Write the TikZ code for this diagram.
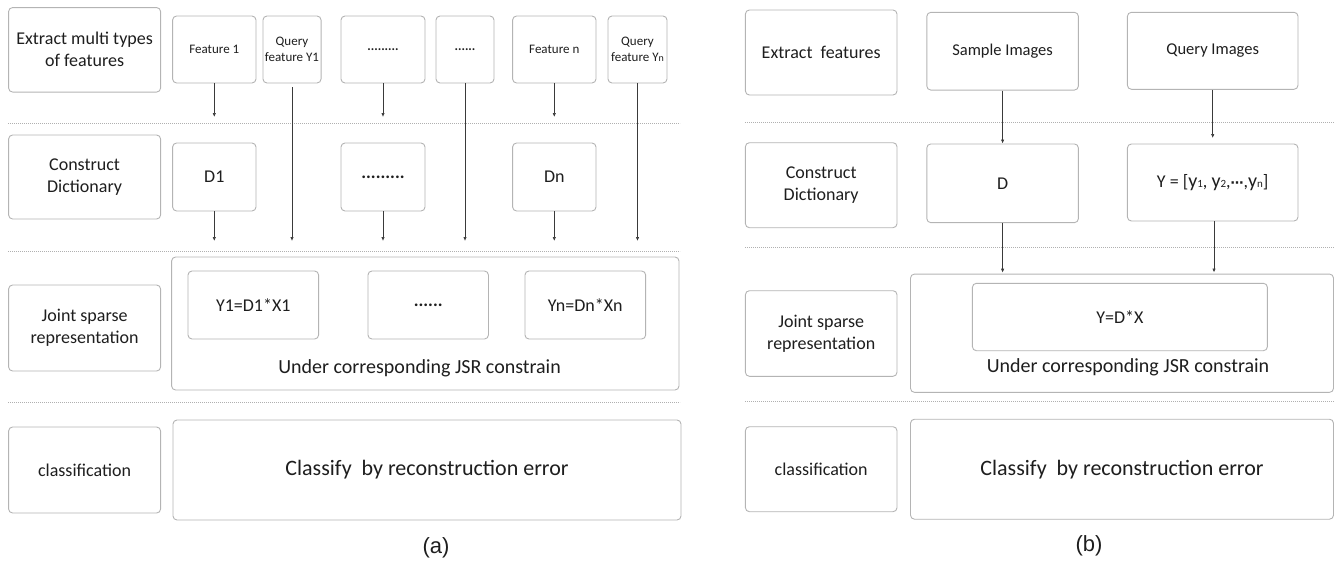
\documentclass[tikz,border=0pt]{standalone}
\usepackage{fontspec}
\setmainfont{Carlito}
\newfontfamily\arialf{Liberation Sans}
\newfontfamily\djv{DejaVu Sans}
\usetikzlibrary{arrows.meta}
\definecolor{boxgray}{HTML}{B4B4B4}
\definecolor{txt}{HTML}{1E1E1E}
\definecolor{dotgray}{HTML}{B0B0B0}
\definecolor{arrgray}{HTML}{3A3A3A}
\newcommand\ysub[1]{{\fontsize{20}{22}\selectfont y}{\fontsize{11}{13}\selectfont #1}}
\tikzset{
  box/.style={draw=boxgray, line width=0.9pt, rounded corners=4pt, fill=white,
    align=center, text=txt, inner sep=2pt},
  lbl/.style={box, font=\fontsize{18}{22}\selectfont, minimum width=152pt},
  small/.style={font=\fontsize{13}{16}\selectfont},
  mid/.style={font=\fontsize{18}{22}\selectfont},
  arr/.style={-{Latex[length=4pt,width=3.4pt]}, line width=0.7pt, draw=arrgray},
  sep/.style={draw=dotgray, line width=0.8pt, dash pattern=on 0.7pt off 1.3pt},
  captxt/.style={font=\arialf\fontsize{22}{26}\selectfont, text=txt},
}
\begin{document}
\begin{tikzpicture}[x=1pt,y=-1pt]
\useasboundingbox (0,0) rectangle (1335,562);
% ---------------- panel (a) ----------------
\draw[sep] (8,123) -- (680,123);
\draw[sep] (8,251) -- (680,251);
\draw[sep] (8,402.5) -- (680,402.5);
\node[lbl, minimum height=84.5pt] (la1) at (84.6,49.8) {Extract multi types\\of features};
\node[lbl, minimum height=84pt] (la2) at (84.6,177) {Construct\\Dictionary};
\node[lbl, minimum height=86pt] (la3) at (84.6,328) {Joint sparse\\representation};
\node[lbl, minimum height=86pt] (la4) at (84.6,470) {classification};
% row 1
\node[box, small, minimum width=83.4pt, minimum height=67pt] (f1) at (214.3,49.5) {Feature 1};
\node[box, small, minimum width=58pt, minimum height=67pt] (q1) at (292,49.5) {Query\\feature Y1};
\node[box, small, minimum width=84pt, minimum height=67pt] (fd) at (383,49.5) {\textbf{.........}};
\node[box, small, minimum width=58pt, minimum height=67pt] (qd) at (465,49.5) {\textbf{......}};
\node[box, small, minimum width=83.4pt, minimum height=67pt] (fn) at (554.3,49.5) {Feature n};
\node[box, small, minimum width=59pt, minimum height=67pt] (qn) at (637.5,49.5) {Query\\feature Y{\fontsize{10}{12}\selectfont n}};
% row 2
\node[box, mid, minimum width=83.4pt, minimum height=68pt] (d1) at (214.3,177) {D1};
\node[box, mid, minimum width=84pt, minimum height=68pt] (dd) at (383,177) {\textbf{.........}};
\node[box, mid, minimum width=83.4pt, minimum height=68pt] (dn) at (554.3,177) {Dn};
% row 3
\node[box, minimum width=507.4pt, minimum height=133pt] (ja) at (425.3,323.5) {};
\node[box, mid, minimum width=130.6pt, minimum height=68pt] (y1) at (253.3,305) {Y1=D1*X1};
\node[box, mid, minimum width=120.5pt, minimum height=68pt] (yd) at (428.2,305) {\textbf{......}};
\node[box, mid, minimum width=120.7pt, minimum height=68pt] (yn) at (585.3,305) {Yn=Dn*Xn};
\node[text=txt, font=\fontsize{20}{24}\selectfont] (jsra) at (419.6,368.5) {Under corresponding JSR constrain};
% row 4
\node[box, font=\fontsize{22}{26}\selectfont, minimum width=508pt, minimum height=100pt] (ca) at (427,470) {Classify\ \ by reconstruction error};
\node[captxt] (capa) at (436,548) {(a)};
% arrows (a)
\coordinate (e1a) at (214.3,117);
\coordinate (e1b) at (383,117);
\coordinate (e1c) at (554.3,117);
\draw[arr] (f1.south) -- (e1a);
\draw[arr] (fd.south) -- (e1b);
\draw[arr] (fn.south) -- (e1c);
\coordinate (e2a) at (214.3,241);
\coordinate (e2b) at (292,241);
\coordinate (e2c) at (383,241);
\coordinate (e2d) at (465,241);
\coordinate (e2e) at (554.3,241);
\coordinate (e2f) at (637.5,241);
\draw[arr] (d1.south) -- (e2a);
\draw[arr] ([yshift=-4pt]q1.south) -- (e2b);
\draw[arr] (dd.south) -- (e2c);
\draw[arr] (qd.south) -- (e2d);
\draw[arr] (dn.south) -- (e2e);
\draw[arr] (qn.south) -- (e2f);
% ---------------- panel (b) ----------------
\draw[sep] (745,122.3) -- (1335,122.3);
\draw[sep] (745,247.3) -- (1335,247.3);
\draw[sep] (745,401.7) -- (1335,401.7);
\node[lbl, minimum width=151.6pt, minimum height=85pt] (lb1) at (821.2,52.5) {Extract\ \ features};
\node[lbl, minimum width=151.6pt, minimum height=85pt] (lb2) at (821.2,185.2) {Construct\\Dictionary};
\node[lbl, minimum width=151.6pt, minimum height=85.6pt] (lb3) at (821.2,333.5) {Joint sparse\\representation};
\node[lbl, minimum width=151.6pt, minimum height=85pt] (lb4) at (821.2,469.2) {classification};
\node[box, font=\fontsize{16.5}{20}\selectfont, minimum width=151.6pt, minimum height=77.7pt] (si) at (1002.6,51.2) {Sample Images};
\node[box, font=\fontsize{16.5}{20}\selectfont, minimum width=170.6pt, minimum height=77pt] (qi) at (1212.7,50.8) {Query Images};
\node[box, mid, minimum width=151.6pt, minimum height=78.7pt] (dD) at (1002.6,183.3) {D};
\node[box, mid, minimum width=170.6pt, minimum height=77pt] (dY) at (1212.7,182.5) {Y = [\ysub{1}, \ysub{2},{\djv\fontsize{13}{15}\selectfont\bfseries ⋯},\ysub{n}]};
\node[box, minimum width=423pt, minimum height=118.3pt] (jb) at (1122,333.2) {};
\node[box, mid, minimum width=295pt, minimum height=67.4pt] (yb) at (1119.9,317) {Y=D*X};
\node[text=txt, font=\fontsize{20}{24}\selectfont] (jsrb) at (1128,367.3) {Under corresponding JSR constrain};
\node[box, font=\fontsize{22}{26}\selectfont, minimum width=423pt, minimum height=100pt] (cb) at (1122,469.2) {Classify\ \ by reconstruction error};
\node[captxt] (capb) at (1089,546) {(b)};
% arrows (b)
\coordinate (eq) at (1212.7,138);
\coordinate (ed) at (1002.6,272.7);
\coordinate (ey) at (1214,272.5);
\draw[arr] (si.south) -- (dD.north);
\draw[arr] (qi.south) -- (eq);
\draw[arr] (dD.south) -- (ed);
\draw[arr] ([xshift=1.3pt]dY.south) -- (ey);
\end{tikzpicture}
\end{document}
